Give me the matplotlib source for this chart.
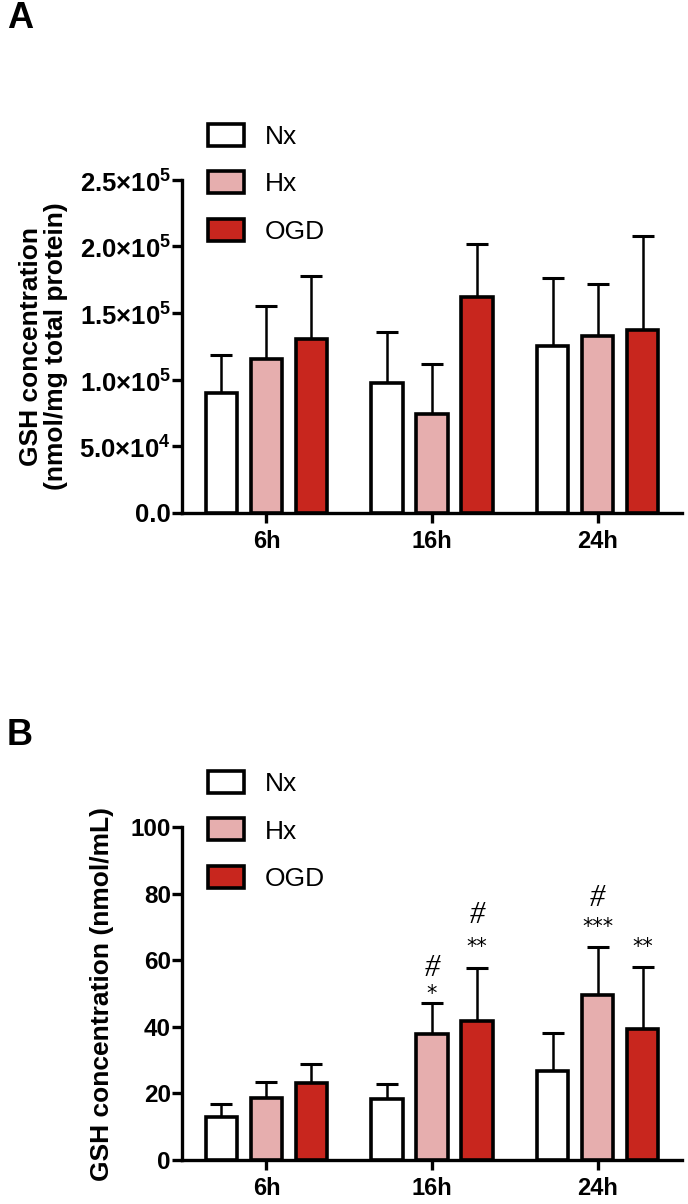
import matplotlib
matplotlib.use("Agg")
import matplotlib.pyplot as plt
import numpy as np

plt.rcParams['font.family'] = ['Liberation Sans', 'DejaVu Sans']
plt.rcParams['mathtext.fontset'] = 'custom'
plt.rcParams['mathtext.rm'] = 'Liberation Sans:bold'
plt.rcParams['mathtext.bf'] = 'Liberation Sans:bold'

timepoints = ['6h', '16h', '24h']
groups = ['Nx', 'Hx', 'OGD']
colors = ['#ffffff', '#e6aeae', '#c8261e']

# panel A: GSH per mg protein (mean, upper error)
a_mean = {'Nx': [90000, 97500, 125500],
          'Hx': [115500, 74500, 133000],
          'OGD': [130500, 162000, 137500]}
a_err = {'Nx': [28500, 38500, 51000],
         'Hx': [39500, 37500, 39000],
         'OGD': [47500, 40000, 70000]}

# panel B: GSH nmol/mL
b_mean = {'Nx': [13.0, 18.4, 26.8],
          'Hx': [18.7, 38.0, 49.5],
          'OGD': [23.2, 41.8, 39.5]}
b_err = {'Nx': [3.8, 4.5, 11.4],
         'Hx': [4.8, 9.3, 14.6],
         'OGD': [5.7, 16.0, 18.6]}

# significance marks in panel B: (timepoint index, group, text, y)
b_stars = [(1, 'Hx', '*', 50.0), (1, 'OGD', '**', 64.0),
           (2, 'Hx', '***', 70.0), (2, 'OGD', '**', 64.0)]
b_hash = [(1, 'Hx', 57.5), (1, 'OGD', 73.5), (2, 'Hx', 78.5)]

x = np.arange(len(timepoints))
offset = 0.272
width = 0.19


def draw_panel(ax, means, errs):
    for i, g in enumerate(groups):
        ax.bar(x + (i - 1) * offset, means[g], width, color=colors[i],
               edgecolor='black', linewidth=2.6, label=g, zorder=3)
        ax.errorbar(x + (i - 1) * offset, means[g], yerr=[np.zeros(3), errs[g]],
                    fmt='none', ecolor='black', elinewidth=1.8, capsize=8,
                    capthick=2.2, zorder=2)
    ax.set_xlim(-0.51, 2.51)
    ax.set_xticks(x)
    ax.set_xticklabels(timepoints, fontsize=17, fontweight='bold')
    for s in ['top', 'right']:
        ax.spines[s].set_visible(False)
    for s in ['left', 'bottom']:
        ax.spines[s].set_linewidth(2.4)
    ax.tick_params(axis='both', width=2.4, length=7)
    ax.tick_params(axis='y', pad=1)
    ax.tick_params(axis='x', pad=5)
    ax.legend(loc='upper left', bbox_to_anchor=(0.03, 1.20), frameon=False,
              fontsize=19, handlelength=1.4, handleheight=0.9,
              handletextpad=0.76, labelspacing=0.85, borderaxespad=0)


fig = plt.figure(figsize=(6.88, 12.04), dpi=100)

axA = fig.add_axes([0.2645, 0.574, 0.727, 0.2766])
draw_panel(axA, a_mean, a_err)
axA.set_ylim(0, 250000)
a_ticks = [0, 50000, 100000, 150000, 200000, 250000]
a_labels = ['0.0', r'$5.0{\times}10^4$', r'$1.0{\times}10^5$', r'$1.5{\times}10^5$',
            r'$2.0{\times}10^5$', r'$2.5{\times}10^5$']
axA.set_yticks(a_ticks)
axA.set_yticklabels(a_labels, fontsize=18.5, fontweight='bold')
axA.set_ylabel('GSH concentration\n(nmol/mg total protein)', fontsize=19,
               fontweight='bold', labelpad=8, linespacing=1.05)

axB = fig.add_axes([0.2645, 0.0365, 0.727, 0.2766])
draw_panel(axB, b_mean, b_err)
axB.set_ylim(0, 100)
axB.set_yticks([0, 20, 40, 60, 80, 100])
axB.set_yticklabels(['0', '20', '40', '60', '80', '100'], fontsize=17.5, fontweight='bold')
axB.set_ylabel('GSH concentration (nmol/mL)', fontsize=19, fontweight='bold', labelpad=12)

for t, g, txt, yv in b_stars:
    axB.text(x[t] + (groups.index(g) - 1) * offset, yv, txt, ha='center', va='center',
             fontsize=15, family='DejaVu Sans')
for t, g, yv in b_hash:
    axB.text(x[t] + (groups.index(g) - 1) * offset, yv, '#', ha='center', va='center',
             fontsize=22, family='Liberation Serif', style='italic')

fig.text(0.01, 0.985, 'A', fontsize=26, fontweight='bold', va='center')
fig.text(0.01, 0.389, 'B', fontsize=26, fontweight='bold', va='center')

fig.savefig('out.png', dpi=100, facecolor='white')
